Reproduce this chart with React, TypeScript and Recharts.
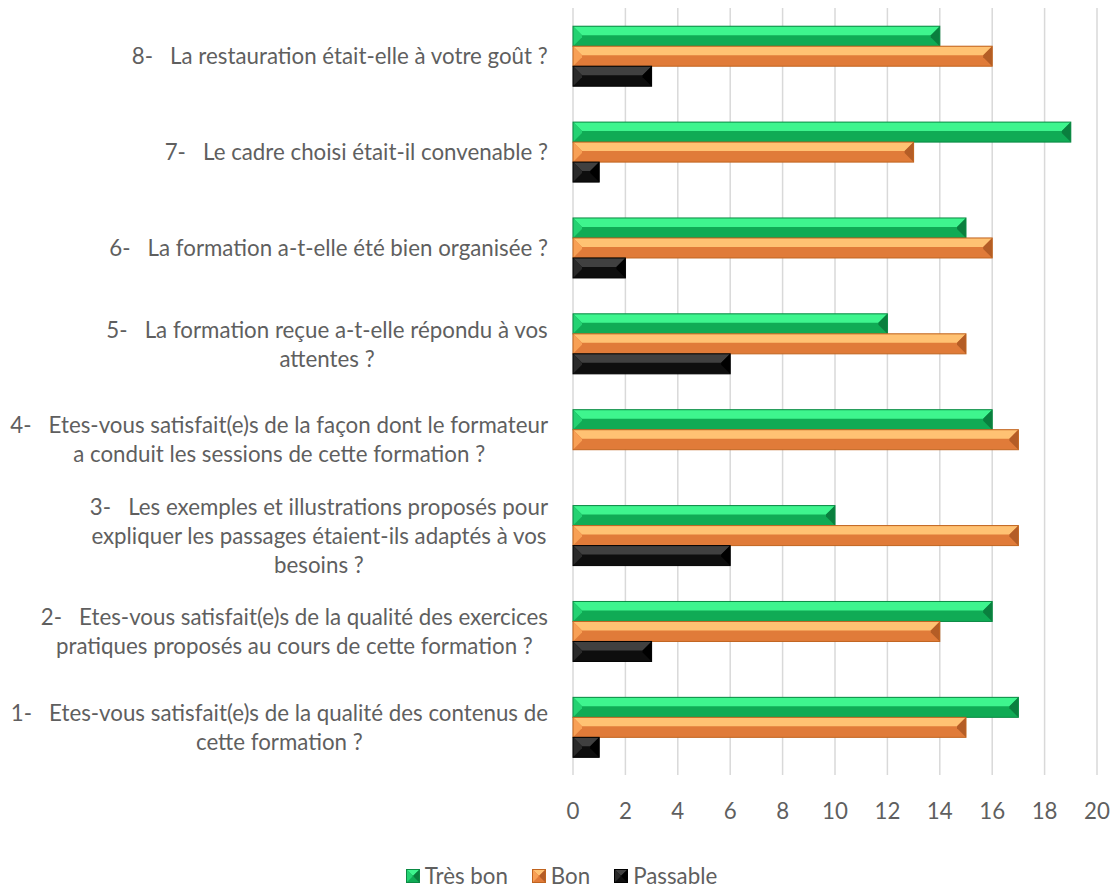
import React from "react";
import { BarChart, Bar, XAxis, YAxis, CartesianGrid, Legend } from "recharts";

// questions listed from 1 to 8 (the axis is reversed so 8 sits on top)
const questions = [
  "1-   Etes-vous satisfait(e)s de la qualité des contenus de\ncette formation ?",
  "2-   Etes-vous satisfait(e)s de la qualité des exercices\npratiques proposés au cours de cette formation ?",
  "3-   Les exemples et illustrations proposés pour\nexpliquer les passages étaient-ils adaptés à vos\nbesoins ?",
  "4-   Etes-vous satisfait(e)s de la façon dont le formateur\na conduit les sessions de cette formation ?",
  "5-   La formation reçue a-t-elle répondu à vos\nattentes ?",
  "6-   La formation a-t-elle été bien organisée ?",
  "7-   Le cadre choisi était-il convenable ?",
  "8-   La restauration était-elle à votre goût ?",
];
const tresBon = [17, 16, 10, 16, 12, 15, 19, 14];
const bon = [15, 14, 17, 17, 15, 16, 13, 16];
const passable = [1, 3, 6, 0, 6, 2, 1, 3];
const xTicks = [0, 2, 4, 6, 8, 10, 12, 14, 16, 18, 20];

const rows = questions.map((q, i) => ({
  q,
  tresBon: tresBon[i],
  bon: bon[i],
  passable: passable[i],
}));

const FONT_FAMILY = "Lato, sans-serif";
const FONT_SIZE = 22.3;
const TEXT = "#5f5f5f";

type Pal = { light: string; main: string; left: string; right: string; edge: string };
const GREEN: Pal = { light: "#3ef58e", main: "#10ab55", left: "#24d272", right: "#0a7f3e", edge: "#0b8a44" };
const ORANGE: Pal = { light: "#ffc273", main: "#e07b39", left: "#f8a055", right: "#b45d26", edge: "#c0641f" };
const BLACK: Pal = { light: "#404040", main: "#0e0e0e", left: "#2a2a2a", right: "#000000", edge: "#000000" };

let ctx: CanvasRenderingContext2D | null = null;
function textWidth(s: string) {
  if (!ctx) ctx = document.createElement("canvas").getContext("2d");
  if (!ctx) return s.length * 9;
  ctx.font = `${FONT_SIZE}px ${FONT_FAMILY}`;
  return ctx.measureText(s).width;
}

function bevel(x: number, y: number, w: number, h: number, p: Pal) {
  const b = Math.min(h * 0.45, w / 2);
  return (
    <g>
      <rect x={x} y={y} width={w} height={h} fill={p.main} />
      <polygon points={`${x},${y} ${x + w},${y} ${x + w - b},${y + b} ${x + b},${y + b}`} fill={p.light} />
      <polygon points={`${x},${y} ${x + b},${y + b} ${x + b},${y + h - b} ${x},${y + h}`} fill={p.left} />
      <polygon points={`${x + w},${y} ${x + w - b},${y + b} ${x + w - b},${y + h - b} ${x + w},${y + h}`} fill={p.right} />
      <rect x={x} y={y} width={w} height={h} fill="none" stroke={p.edge} strokeWidth={1} />
    </g>
  );
}

function BevelBar(props: any) {
  const { x, y, width, height, pal } = props;
  if (!width || width <= 0) return null;
  return bevel(x, y, width, height, pal);
}

function QuestionTick({ x, y, payload }: any) {
  const lines: string[] = String(payload.value).split("\n");
  const maxW = Math.max(...lines.map(textWidth));
  const cx = x - maxW / 2;
  const lineH = 29;
  const y0 = y - ((lines.length - 1) * lineH) / 2;
  return (
    <g>
      {lines.map((l, i) => (
        <text
          key={i}
          x={cx}
          y={y0 + i * lineH}
          textAnchor="middle"
          dominantBaseline="central"
          fill={TEXT}
          fontSize={FONT_SIZE}
          fontFamily={FONT_FAMILY}
          style={{ whiteSpace: "pre" }}
        >
          {l}
        </text>
      ))}
    </g>
  );
}

function ValueTick({ x, y, payload }: any) {
  return (
    <text x={x} y={y} dy={14} textAnchor="middle" fill={TEXT} fontSize={FONT_SIZE} fontFamily={FONT_FAMILY}>
      {payload.value}
    </text>
  );
}

const legendItems = [
  { name: "Très bon", pal: GREEN },
  { name: "Bon", pal: ORANGE },
  { name: "Passable", pal: BLACK },
];

function LegendContent() {
  return (
    <div style={{ height: 56, display: "flex", justifyContent: "center", alignItems: "flex-end", gap: 24, paddingLeft: 26 }}>
      {legendItems.map((it) => (
        <div key={it.name} style={{ display: "flex", alignItems: "center", gap: 5, marginBottom: -2 }}>
          <svg width={14} height={14}>{bevel(0.5, 0.5, 13, 13, it.pal)}</svg>
          <span style={{ color: TEXT, fontSize: FONT_SIZE, fontFamily: FONT_FAMILY, lineHeight: "24px" }}>{it.name}</span>
        </div>
      ))}
    </div>
  );
}

export default function App() {
  return (
    <div style={{ position: "absolute", left: 0, top: 0, width: 1117, height: 891, background: "#fff" }}>
      <BarChart
        width={1117}
        height={891}
        data={rows}
        layout="vertical"
        margin={{ top: 8, right: 20, left: 0, bottom: 5 }}
        barCategoryGap="19%"
        barGap={0}
      >
        <CartesianGrid horizontal={false} stroke="#d9d9d9" strokeWidth={1.5} />
        <XAxis
          type="number"
          domain={[0, 20]}
          ticks={xTicks}
          axisLine={false}
          tickLine={false}
          tickSize={0}
          tickMargin={30}
          height={55}
          tick={<ValueTick />}
        />
        <YAxis
          type="category"
          dataKey="q"
          reversed
          width={573}
          axisLine={false}
          tickLine={false}
          tickSize={0}
          tickMargin={25}
          interval={0}
          tick={<QuestionTick />}
        />
        <Legend verticalAlign="bottom" content={<LegendContent />} />
        <Bar dataKey="tresBon" name="Très bon" isAnimationActive={false} shape={(p: any) => <BevelBar {...p} pal={GREEN} />} />
        <Bar dataKey="bon" name="Bon" isAnimationActive={false} shape={(p: any) => <BevelBar {...p} pal={ORANGE} />} />
        <Bar dataKey="passable" name="Passable" isAnimationActive={false} shape={(p: any) => <BevelBar {...p} pal={BLACK} />} />
      </BarChart>
    </div>
  );
}
